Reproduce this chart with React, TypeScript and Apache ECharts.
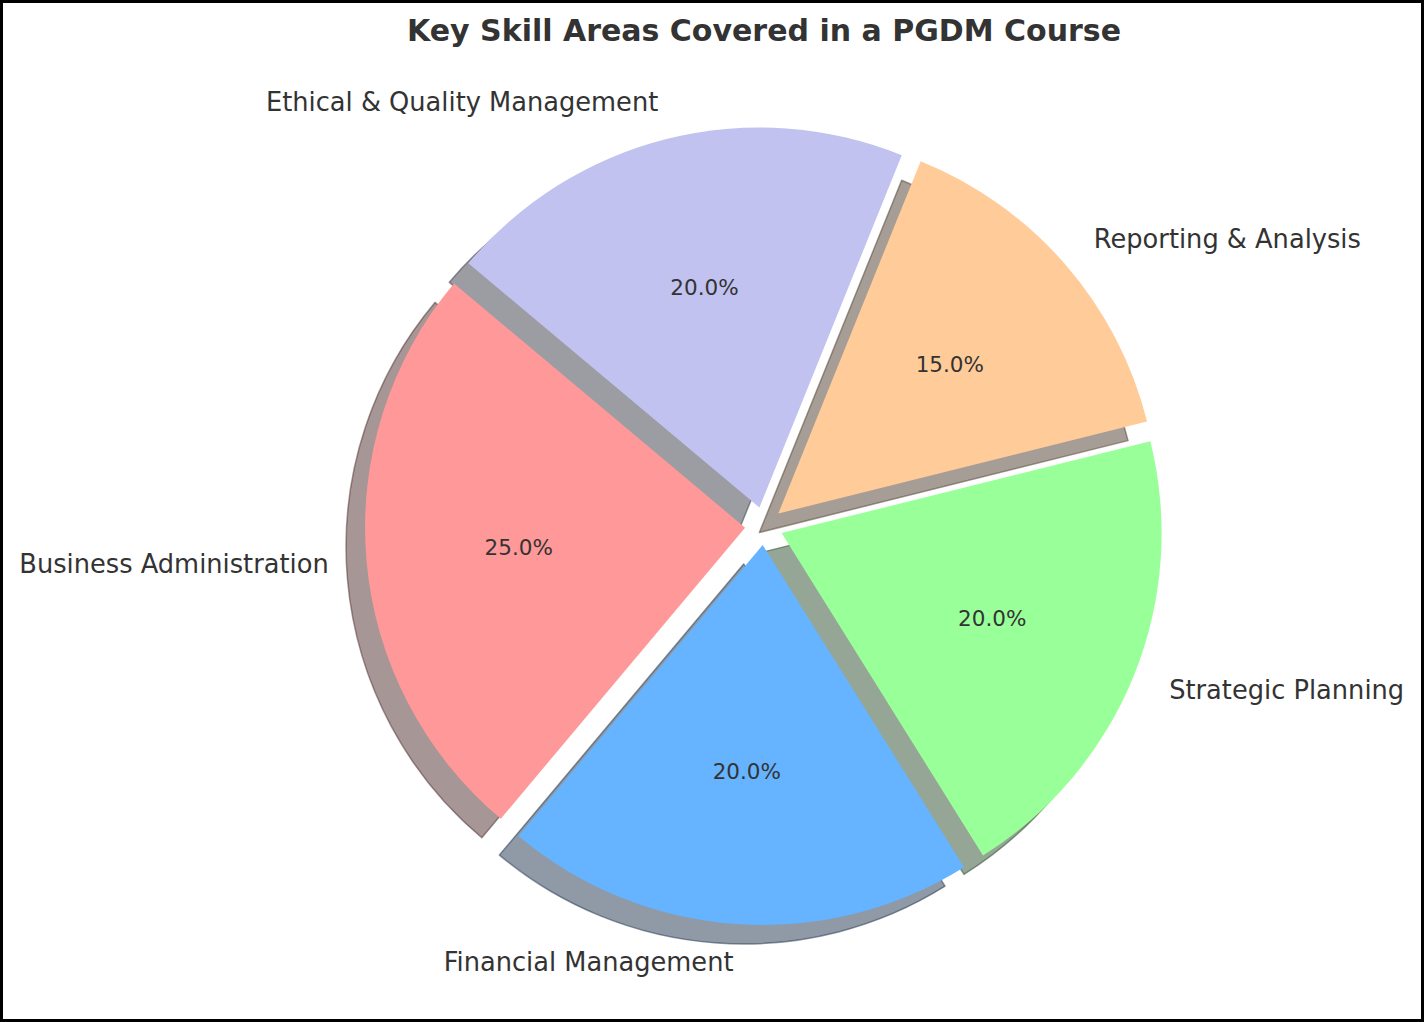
import React, { useEffect, useRef } from "react";
import * as echarts from "echarts";

const titleText = "Key Skill Areas Covered in a PGDM Course";
const categories = [
  "Business Administration",
  "Financial Management",
  "Strategic Planning",
  "Reporting & Analysis",
  "Ethical & Quality Management",
];
const shares = [25, 20, 20, 15, 20];
const sliceColors = ["#ff9999", "#66b3ff", "#99ff99", "#ffcc99", "#c2c2f0"];
const explode = [0.05, 0.05, 0.05, 0.05, 0.05];

const CX = 764;
const CY = 526;
const R = 380;
const START_ANGLE = 140;
const SHADOW_SHIFT = 19;
const FONT = "DejaVu Sans";
const TEXT_COLOR = "#333333";

function shadowColor(hex: string): string {
  const n = parseInt(hex.slice(1), 16);
  const r = Math.round(((n >> 16) & 255) * 0.3);
  const g = Math.round(((n >> 8) & 255) * 0.3);
  const b = Math.round((n & 255) * 0.3);
  return `rgba(${r},${g},${b},0.5)`;
}

const total = shares.reduce((a, b) => a + b, 0);

function midAngles(): number[] {
  let cum = 0;
  return shares.map((v) => {
    const m = START_ANGLE + (360 * (cum + v / 2)) / total;
    cum += v;
    return (m * Math.PI) / 180;
  });
}

const HIDDEN = { color: "rgba(0,0,0,0)", borderWidth: 0 };

function buildOption() {
  const mids = midAngles();
  const centers = mids.map((a, i) => [
    CX + explode[i] * R * Math.cos(a),
    CY - explode[i] * R * Math.sin(a),
  ]);
  const base = {
    type: "pie",
    startAngle: START_ANGLE,
    clockwise: false,
    silent: true,
    animation: false,
    avoidLabelOverlap: false,
    emphasis: { disabled: true },
    labelLine: { show: false, length: R * 0.1, length2: 0 },
  };

  const shadowSeries = shares.map((_, i) => ({
    ...base,
    name: "shadow" + i,
    radius: R,
    center: [centers[i][0] - SHADOW_SHIFT, centers[i][1] + SHADOW_SHIFT],
    label: { show: false },
    data: shares.map((v, j) => ({
      name: categories[j],
      value: v,
      itemStyle:
        j === i
          ? {
              color: shadowColor(sliceColors[j]),
              borderColor: shadowColor(sliceColors[j]),
              borderWidth: 1.5,
            }
          : HIDDEN,
    })),
  }));

  const sliceSeries = shares.map((_, i) => ({
    ...base,
    name: "slice" + i,
    radius: R,
    center: centers[i],
    data: shares.map((v, j) => ({
      name: categories[j],
      value: v,
      itemStyle: j === i ? { color: sliceColors[j], borderWidth: 0 } : HIDDEN,
      label:
        j === i
          ? {
              show: true,
              position: "outside",
              formatter: "{b}",
              color: TEXT_COLOR,
              fontSize: 25.7,
              fontFamily: FONT,
              distanceToLabelLine: 0,
            }
          : { show: false },
    })),
  }));

  const pctSeries = shares.map((_, i) => ({
    ...base,
    name: "pct" + i,
    radius: [R * 0.18, R],
    center: centers[i],
    data: shares.map((v, j) => ({
      name: categories[j],
      value: v,
      itemStyle: HIDDEN,
      label:
        j === i
          ? {
              show: true,
              position: "inside",
              formatter: ((v / total) * 100).toFixed(1) + "%",
              color: TEXT_COLOR,
              fontSize: 21.5,
              fontFamily: FONT,
            }
          : { show: false },
    })),
  }));

  return {
    animation: false,
    backgroundColor: "#ffffff",
    title: {
      text: titleText,
      left: CX - 5,
      top: 10,
      textAlign: "center",
      textStyle: {
        fontFamily: FONT,
        fontSize: 30,
        fontWeight: "bold",
        color: TEXT_COLOR,
      },
    },
    graphic: [
      {
        type: "rect",
        silent: true,
        z: 100,
        shape: { x: 1.5, y: 1.5, width: 1421, height: 1019 },
        style: { fill: "none", stroke: "#000000", lineWidth: 3 },
      },
    ],
    series: [...shadowSeries, ...sliceSeries, ...pctSeries],
  };
}

export default function App() {
  const ref = useRef<HTMLDivElement>(null);
  useEffect(() => {
    if (!ref.current) return;
    const chart = echarts.init(ref.current, undefined, { renderer: "svg" });
    chart.setOption(buildOption() as any);
    return () => chart.dispose();
  }, []);
  return (
    <div
      ref={ref}
      style={{ position: "absolute", left: 0, top: 0, width: 1424, height: 1022 }}
    />
  );
}
